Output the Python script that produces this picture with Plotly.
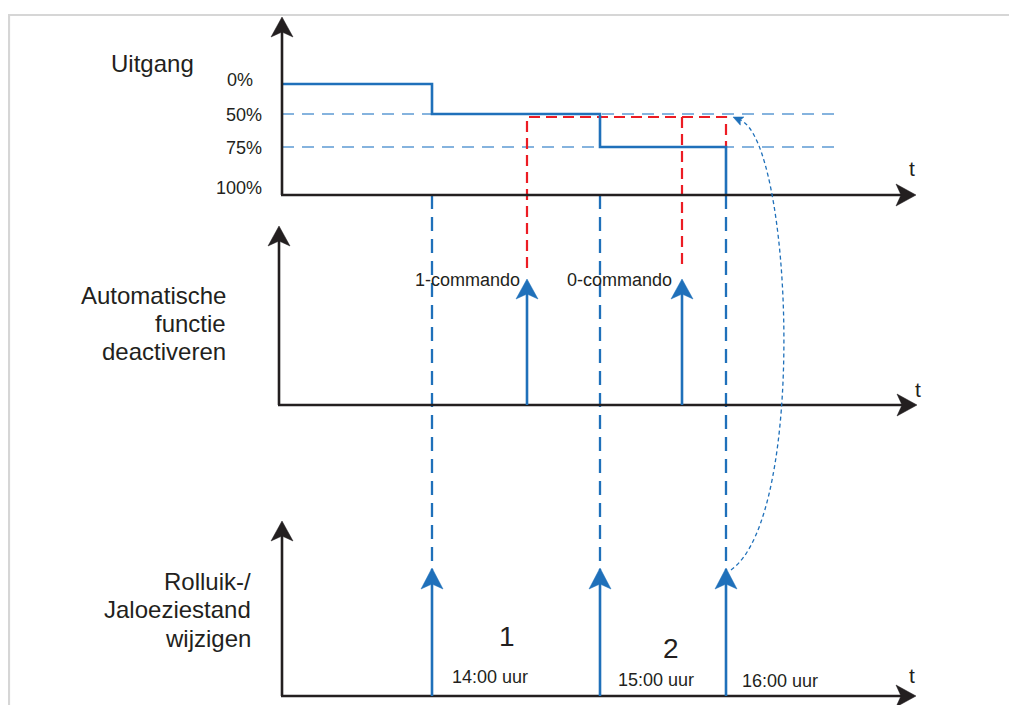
import plotly.graph_objects as go

# ---------------- data ----------------
level_labels = ["0%", "50%", "75%", "100%"]
level_pct = [0, 50, 75, 100]
output_t = [282, 432, 600, 726]          # time points where the output changes
output_pct = [0, 50, 75, 100]            # output level from that time on
schedule_labels = ["14:00 uur", "15:00 uur", "16:00 uur"]
schedule_t = [432, 600, 726]             # blind position change times
command_labels = ["1-commando", "0-commando"]
command_t = [527, 682]                   # deactivate commands
interval_labels = ["1", "2"]
panel_titles = [["Uitgang"], ["Automatische", "functie", "deactiveren"],
                ["Rolluik-/", "Jaloeziestand", "wijzigen"]]

# ---------------- layout / style ----------------
W, H = 1017, 705
OFF = 8   # page body margin of the html page
LEVEL_Y = {0: 84, 50: 114, 75: 147, 100: 195}
BLUE = "#1f70ba"
GUIDE = "#5e9bd3"
RED = "#ec1c24"
INK = "#231f20"
FONT = "Liberation Sans, Arial, sans-serif"

PANELS = [  # (x0, y_base, y_top, x_end)
    (282, 195, 17, 916),
    (279, 405, 226, 917),
    (282, 696, 521, 916),
]
CMD_TIP = 279
SCH_TIP = 568
RED_TOP = 117
RED_BOT = 268

fig = go.Figure()
shapes = []
ann = []


def head(tx, ty, dx, dy, L, Wd, notch, color):
    px, py = -dy, dx
    bx, by = tx - L * dx, ty - L * dy
    nx, ny = tx - (L - notch) * dx, ty - (L - notch) * dy
    path = (f"M{tx},{ty} L{bx + Wd * px},{by + Wd * py} L{nx},{ny} "
            f"L{bx - Wd * px},{by - Wd * py} Z")
    shapes.append(dict(type="path", path=path, fillcolor=color,
                       line=dict(color=color, width=0.5), xref="x", yref="y"))
    return nx, ny


def seg(x, y, color, width, dash="solid"):
    fig.add_trace(go.Scatter(x=x, y=y, mode="lines", hoverinfo="skip",
                             line=dict(color=color, width=width, dash=dash),
                             showlegend=False))


def text(s, x, y, size, xanchor="center", yanchor="middle"):
    ann.append(dict(text=s, x=x, y=y, xref="x", yref="y", showarrow=False,
                    xanchor=xanchor, yanchor=yanchor,
                    font=dict(family=FONT, size=size, color=INK)))


# frame
seg([9, 9, W], [H, 15, 15], "#d6d6d6", 2.2)

# guide lines (50 %, 75 %)
for p in level_pct[1:3]:
    seg([PANELS[0][0], 838], [LEVEL_Y[p], LEVEL_Y[p]], GUIDE, 1.4, "12px,8px")

# blue dashed verticals linking schedule events to output
for t in schedule_t:
    seg([t, t], [PANELS[0][1], SCH_TIP + 2], BLUE, 2.3, "14px,8px")

# red dashed: command effect
seg([command_t[0], command_t[0], schedule_t[2], schedule_t[2]],
    [RED_BOT, RED_TOP, RED_TOP, LEVEL_Y[75]], RED, 2.2, "11px,6px")
seg([command_t[1], command_t[1]], [RED_TOP, RED_BOT], RED, 2.2, "11px,6px")

# output step line
seg(output_t, [LEVEL_Y[p] for p in output_pct], BLUE, 2.6)
fig.data[-1].line.shape = "hv"

# axes
for (x0, yb, yt, xe) in PANELS:
    nx, ny = head(x0, yt, 0, -1, 20, 11, 5, INK)
    seg([x0, x0], [yb, ny], INK, 2.6)
    nx, ny = head(xe, yb, 1, 0, 20, 11, 5, INK)
    seg([x0 - 1, nx], [yb, yb], INK, 2.6)

# command arrows
for t in command_t:
    nx, ny = head(t, CMD_TIP, 0, -1, 20, 11, 5, BLUE)
    seg([t, t], [PANELS[1][1], ny], BLUE, 2.6)

# schedule arrows
for t in schedule_t:
    nx, ny = head(t, SCH_TIP, 0, -1, 21, 11, 5, BLUE)
    seg([t, t], [PANELS[2][1], ny], BLUE, 2.6)

# dotted return curve
shapes.append(dict(type="path", xref="x", yref="y",
                   path="M731,570 C808,515 792,140 740,120",
                   line=dict(color=BLUE, width=1.3, dash="4px,3px")))
head(733, 117, -0.915, -0.405, 10, 4.5, 2, BLUE)

# texts
text(panel_titles[0][0], 152, 63, 24)
for i, s in enumerate(panel_titles[1]):
    text(s, 228, 295 + 28 * i, 24, xanchor="right")
for i, s in enumerate(panel_titles[2]):
    text(s, 253, 581 + 28.5 * i, 24, xanchor="right")

lvl_label_x = [255, 264, 264, 264]
lvl_label_y = [80, 115, 148, 188]
for s, x, y in zip(level_labels, lvl_label_x, lvl_label_y):
    text(s, x, y, 18, xanchor="right")

for s, x in zip(command_labels, [467, 619]):
    text(s, x, 280, 18)

for s, x, y in zip(schedule_labels, [490, 656, 780], [677, 680, 681]):
    text(s, x, y, 18)

for s, x, y in zip(interval_labels, [507, 671], [636, 648]):
    text(s, x, y, 28)

for x, y in [(912, 168), (918, 389), (912, 675)]:
    text("t", x, y, 21)

fig.update_layout(
    width=W - OFF, height=H - OFF, margin=dict(l=0, r=0, t=0, b=0),
    paper_bgcolor="white", plot_bgcolor="white",
    xaxis=dict(range=[OFF, W], visible=False, fixedrange=True),
    yaxis=dict(range=[H, OFF], visible=False, fixedrange=True),
    shapes=shapes, annotations=ann, hovermode=False, showlegend=False,
)
fig.write_html("out.html")
